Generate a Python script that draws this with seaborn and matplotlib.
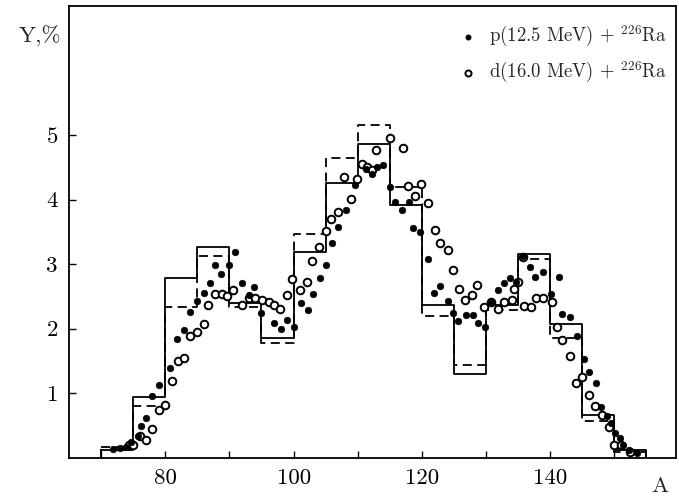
import numpy as np
import pandas as pd
import matplotlib
matplotlib.use("Agg")
import matplotlib.pyplot as plt
import seaborn as sns

# ---- data ----
bin_left = [70, 75, 80, 85, 90, 95, 100, 105, 110, 115, 120, 125, 130, 135, 140, 145, 150]
bin_width = 5
solid_hist = [0.11, 0.94, 2.78, 3.26, 2.39, 1.85, 3.18, 4.26, 4.86, 3.91, 2.36, 1.30, 2.36, 3.15, 2.07, 0.66, 0.12]
dashed_hist = [0.17, 0.80, 2.33, 3.13, 2.33, 1.78, 3.47, 4.65, 5.16, 4.20, 2.19, 1.44, 2.29, 3.07, 1.85, 0.56, 0.08]

p_A = [71.9, 72.9, 73.9, 74.6, 75.7, 76.2, 77.0, 78.0, 79.0, 80.8, 81.9, 82.9, 83.9, 84.9, 86.0, 86.9,
       87.8, 88.7, 89.9, 90.9, 92.0, 93.0, 93.8, 95.0, 96.9, 98.0, 99.0, 100.0, 101.1, 102.2, 103.1,
       104.1, 105.0, 106.0, 107.0, 108.1, 109.6, 111.3, 112.3, 113.0, 113.9, 115.0, 115.8, 116.9,
       118.0, 118.6, 119.7, 121.0, 121.9, 122.8, 124.0, 124.9, 125.7, 126.9, 127.9, 128.8, 129.9,
       130.8, 131.8, 132.8, 133.8, 134.7, 135.8, 136.8, 137.7, 138.9, 140.1, 141.4, 141.8, 143.1,
       144.2, 145.2, 146.1, 147.1, 147.9, 148.8, 149.4, 150.1, 150.9, 151.4, 152.2, 153.5]
p_Y = [0.13, 0.15, 0.17, 0.24, 0.34, 0.49, 0.62, 0.95, 1.12, 1.39, 1.83, 1.98, 2.26, 2.42, 2.55, 2.71,
       2.98, 2.84, 2.98, 3.18, 2.70, 2.52, 2.65, 2.24, 2.08, 1.99, 2.13, 2.03, 2.40, 2.28, 2.53,
       2.78, 2.98, 3.33, 3.57, 3.84, 4.22, 4.47, 4.40, 4.50, 4.54, 4.20, 3.96, 3.84,
       3.96, 3.56, 3.50, 3.07, 2.55, 2.66, 2.42, 2.24, 2.11, 2.21, 2.21, 2.09, 2.03,
       2.41, 2.59, 2.70, 2.78, 2.72, 3.12, 2.95, 2.80, 2.88, 2.54, 2.80, 2.23, 2.18,
       1.88, 1.52, 1.33, 1.16, 0.79, 0.64, 0.54, 0.38, 0.30, 0.20, 0.12, 0.07]

d_A = [74.3, 75.0, 76.0, 77.0, 78.0, 79.1, 79.9, 81.0, 82.0, 83.0, 83.9, 84.9, 86.0, 86.7, 87.8, 88.8,
       89.7, 90.6, 92.0, 93.0, 94.0, 95.1, 96.1, 97.0, 97.9, 99.0, 99.8, 101.0, 102.1, 102.9, 104.0,
       105.0, 105.9, 107.0, 107.9, 108.9, 109.9, 110.6, 111.5, 112.2, 112.9, 115.1, 117.0, 117.8,
       119.0, 119.9, 121.0, 122.0, 122.8, 124.0, 124.9, 125.8, 126.7, 127.8, 128.6, 129.7, 130.8,
       131.8, 132.8, 134.0, 134.4, 135.0, 135.7, 135.9, 137.0, 137.8, 138.9, 140.3, 141.1, 141.9,
       143.1, 144.0, 144.9, 146.1, 147.0, 148.0, 149.1, 150.0, 151.1, 152.4]
d_Y = [0.20, 0.19, 0.33, 0.27, 0.44, 0.74, 0.82, 1.18, 1.49, 1.55, 1.88, 1.95, 2.07, 2.36, 2.53, 2.53,
       2.50, 2.59, 2.36, 2.47, 2.47, 2.44, 2.41, 2.36, 2.31, 2.52, 2.76, 2.59, 2.72, 3.05, 3.26,
       3.51, 3.70, 3.80, 4.35, 4.01, 4.32, 4.55, 4.50, 4.45, 4.77, 4.95, 4.80, 4.21,
       4.06, 4.24, 3.94, 3.53, 3.33, 3.21, 2.91, 2.62, 2.44, 2.52, 2.67, 2.33, 2.41,
       2.30, 2.41, 2.44, 2.62, 2.72, 3.11, 2.35, 2.33, 2.48, 2.47, 2.41, 2.02, 1.82,
       1.58, 1.15, 1.25, 0.97, 0.80, 0.66, 0.48, 0.20, 0.20, 0.08]

x_ticks = [70, 80, 90, 100, 110, 120, 130, 140, 150]
x_ticklabels = ["", "80", "", "100", "", "120", "", "140", ""]
y_ticks = [1, 2, 3, 4, 5]
y_ticklabels = ["1", "2", "3", "4", "5"]
label_p = r"p(12.5 MeV) + $^{226}$Ra"
label_d = r"d(16.0 MeV) + $^{226}$Ra"

# ---- style ----
sns.set_style("ticks")
plt.rcParams["font.family"] = ["cmr10", "DejaVu Serif"]
plt.rcParams["mathtext.fontset"] = "cm"
plt.rcParams["axes.formatter.use_mathtext"] = True
plt.rcParams["axes.unicode_minus"] = False

fig = plt.figure(figsize=(6.79, 4.98), dpi=100)
ax = fig.add_axes([69 / 679, 1 - 457.5 / 498, (676 - 69) / 679, (457.5 - 6) / 498])

edges = list(bin_left) + [bin_left[-1] + bin_width]
centers = [b + bin_width / 2 for b in bin_left]
hist_df = pd.DataFrame({"A": centers, "solid": solid_hist, "dashed": dashed_hist})

dash = (0, (5, 3))
sns.histplot(data=hist_df, x="A", weights="solid", bins=edges, element="step", fill=False,
             color="black", linewidth=1.3, ax=ax)
sns.histplot(data=hist_df, x="A", weights="dashed", bins=edges, element="step", fill=False,
             color="black", linewidth=1.3, linestyle=dash, ax=ax)
for h, ls in [(solid_hist, "-"), (dashed_hist, dash)]:
    ax.vlines([edges[0], edges[-1]], 0, [h[0], h[-1]], colors="black", linewidth=1.3, linestyles=[ls])

p_df = pd.DataFrame({"A": p_A, "Y": p_Y})
d_df = pd.DataFrame({"A": d_A, "Y": d_Y})
sns.scatterplot(data=d_df, x="A", y="Y", marker="o", s=30, facecolor="white", edgecolor="black",
                linewidth=1.4, ax=ax, label=label_d, zorder=3)
sns.scatterplot(data=p_df, x="A", y="Y", marker="o", s=22, color="black", edgecolor="black",
                linewidth=0.5, ax=ax, label=label_p, zorder=4)

ax.set_xlim(65, 159.6)
ax.set_ylim(0, 7.0)
ax.set_xticks(x_ticks)
ax.set_xticklabels(x_ticklabels)
ax.set_yticks(y_ticks)
ax.set_yticklabels(y_ticklabels)
ax.tick_params(direction="in", length=5, width=1.0, labelsize=16.5, pad=8, colors="black")
ax.set_xlabel("")
ax.set_ylabel("")
for s in ax.spines.values():
    s.set_linewidth(1.3)
    s.set_color("black")
    s.set_visible(True)

fig.text(40 / 679, 1 - 36 / 498, "Y,%", fontsize=16.5, ha="center", va="center")
fig.text(660 / 679, 1 - 486 / 498, "A", fontsize=16.5, ha="center", va="center")

handles, labels = ax.get_legend_handles_labels()
order = [labels.index(label_p), labels.index(label_d)]
leg = ax.legend([handles[i] for i in order], [labels[i] for i in order], loc="upper right",
                bbox_to_anchor=(1.003, 0.985), frameon=False, fontsize=13.5, handletextpad=0.7,
                labelspacing=0.55, handlelength=0.8, borderaxespad=0.2, markerscale=0.8)

fig.savefig("out.png", dpi=100)
